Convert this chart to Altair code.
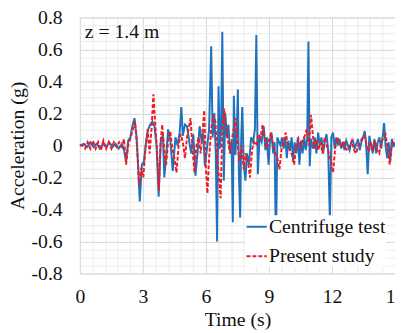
import altair as alt
import pandas as pd

# Centrifuge test (blue, solid)
t_cent = [0.0, 0.2, 0.35, 0.5, 0.65, 0.8, 0.95, 1.1, 1.25, 1.4, 1.55, 1.7, 1.85, 2.0, 2.1, 2.2, 2.3, 2.4, 2.5, 2.6,
          2.7, 2.78, 2.85, 2.95, 3.05, 3.15, 3.25, 3.35, 3.45, 3.55, 3.65, 3.75, 3.85, 3.95, 4.02, 4.1, 4.2, 4.3, 4.42, 4.55,
          4.65, 4.75, 4.83, 4.9, 5.0, 5.1, 5.2, 5.3, 5.4, 5.5, 5.6, 5.7, 5.8, 5.87, 5.95, 6.05, 6.15, 6.25, 6.32, 6.4,
          6.47, 6.53, 6.6, 6.66, 6.72, 6.78, 6.85, 6.92, 7.0, 7.07, 7.15, 7.22, 7.28, 7.33, 7.4, 7.47, 7.52, 7.57, 7.63, 7.68,
          7.73, 7.8, 7.88, 7.95, 8.05, 8.15, 8.25, 8.33, 8.4, 8.47, 8.55, 8.65, 8.75, 8.83, 8.9, 8.98, 9.05, 9.12, 9.2, 9.27,
          9.33, 9.4, 9.48, 9.55, 9.62, 9.7, 9.78, 9.85, 9.92, 10.0, 10.08, 10.15, 10.22, 10.3, 10.38, 10.45, 10.52, 10.6, 10.68, 10.75,
          10.82, 10.88, 10.94, 11.0, 11.1, 11.18, 11.26, 11.34, 11.42, 11.5, 11.58, 11.66, 11.74, 11.82, 11.9, 11.97, 12.05, 12.13, 12.2, 12.28,
          12.36, 12.44, 12.52, 12.6, 12.68, 12.76, 12.84, 12.92, 13.0, 13.08, 13.16, 13.24, 13.32, 13.4, 13.48, 13.56, 13.62, 13.7, 13.78, 13.86,
          13.94, 14.02, 14.1, 14.18, 14.26, 14.34, 14.42, 14.48, 14.55, 14.63, 14.7, 14.77, 14.85, 14.93, 15.0]
a_cent = [0.0, 0.01, -0.01, 0.02, -0.01, 0.01, -0.02, 0.01, -0.01, 0.02, -0.01, 0.01, -0.02, 0.01, -0.03, -0.1, 0.03, 0.05, 0.12, 0.17,
          0.05, -0.15, -0.35, -0.12, -0.1, 0.02, 0.1, 0.13, 0.15, 0.12, 0.0, -0.32, 0.02, 0.07, -0.2, -0.08, 0.1, 0.04, -0.16, 0.05,
          0.0, 0.08, 0.24, 0.06, 0.13, 0.12, 0.03, -0.05, 0.07, -0.19, -0.05, 0.12, 0.02, 0.08, -0.13, -0.02, 0.1, 0.62, 0.05, 0.2,
          -0.05, -0.6, 0.37, -0.02, 0.1, 0.71, -0.22, 0.2, 0.05, 0.13, -0.05, 0.02, -0.48, 0.31, -0.06, 0.1, 0.35, -0.18, -0.45, 0.05,
          0.24, -0.12, -0.22, -0.05, -0.12, 0.05, 0.02, 0.1, 0.69, -0.18, 0.05, 0.02, 0.12, -0.03, 0.05, -0.12, 0.03, 0.08, -0.05, 0.02,
          -0.66, 0.05, 0.02, 0.0, 0.05, -0.02, 0.05, -0.08, 0.03, -0.03, 0.05, -0.1, 0.02, -0.05, 0.05, -0.12, 0.03, -0.05, 0.05, -0.03,
          0.04, 0.65, -0.13, 0.04, -0.02, 0.05, -0.05, 0.08, 0.0, 0.05, -0.05, 0.03, 0.07, -0.03, -0.47, 0.05, 0.08, -0.02, 0.05, 0.0,
          0.04, -0.02, 0.02, -0.03, 0.03, 0.0, -0.03, 0.02, 0.03, -0.02, 0.01, 0.04, -0.03, 0.02, 0.05, 0.09, 0.02, -0.18, 0.06, 0.0,
          -0.05, 0.04, -0.05, 0.02, 0.05, -0.02, 0.06, 0.14, 0.0, -0.08, 0.02, -0.1, 0.04, -0.01, 0.02]

# Present study (red, dashed)
t_pres = [0.0, 0.12, 0.25, 0.37, 0.5, 0.62, 0.75, 0.87, 1.0, 1.12, 1.25, 1.37, 1.5, 1.62, 1.75, 1.87, 2.0, 2.1, 2.2, 2.3,
          2.42, 2.52, 2.62, 2.72, 2.82, 2.92, 3.02, 3.12, 3.22, 3.32, 3.42, 3.5, 3.58, 3.68, 3.76, 3.84, 3.92, 4.02, 4.1, 4.2,
          4.3, 4.4, 4.5, 4.6, 4.7, 4.8, 4.9, 5.0, 5.1, 5.2, 5.27, 5.35, 5.45, 5.55, 5.65, 5.75, 5.85, 5.92, 6.0, 6.07,
          6.15, 6.25, 6.35, 6.45, 6.55, 6.62, 6.7, 6.78, 6.87, 6.95, 7.05, 7.15, 7.25, 7.35, 7.42, 7.5, 7.6, 7.7, 7.8, 7.9,
          8.0, 8.1, 8.2, 8.3, 8.4, 8.5, 8.6, 8.7, 8.8, 8.9, 9.0, 9.1, 9.2, 9.3, 9.4, 9.5, 9.6, 9.7, 9.8, 9.9,
          10.0, 10.1, 10.2, 10.3, 10.4, 10.5, 10.6, 10.7, 10.8, 10.9, 11.0, 11.08, 11.16, 11.25, 11.35, 11.45, 11.55, 11.65, 11.75, 11.85,
          11.95, 12.05, 12.15, 12.25, 12.35, 12.45, 12.55, 12.65, 12.75, 12.85, 12.95, 13.05, 13.15, 13.25, 13.35, 13.45, 13.55, 13.65, 13.75, 13.85,
          13.95, 14.05, 14.15, 14.25, 14.35, 14.45, 14.55, 14.65, 14.75, 14.85, 14.95]
a_pres = [0.0, 0.0, -0.02, 0.02, -0.02, 0.03, -0.02, 0.02, -0.03, 0.03, -0.02, 0.02, -0.02, 0.02, -0.01, 0.02, -0.01, 0.04, -0.12, 0.0,
          0.05, 0.1, 0.15, 0.0, -0.25, -0.14, -0.2, -0.02, 0.1, -0.05, 0.12, 0.32, 0.15, -0.05, -0.28, 0.02, 0.13, -0.03, -0.13, 0.03,
          0.09, -0.02, -0.08, -0.17, 0.0, 0.07, 0.02, -0.08, 0.05, 0.12, 0.17, 0.0, -0.17, 0.0, 0.05, -0.05, 0.1, 0.22, -0.15, -0.3,
          -0.08, 0.1, 0.19, 0.15, -0.1, -0.2, -0.33, 0.1, 0.23, 0.12, 0.03, -0.05, 0.05, 0.12, 0.17, 0.02, -0.1, 0.0, -0.15, -0.05,
          -0.1, -0.2, -0.02, 0.02, 0.0, 0.07, 0.05, 0.13, 0.05, -0.02, 0.03, 0.08, 0.0, -0.05, -0.08, -0.15, -0.02, 0.03, 0.08, 0.0,
          -0.03, -0.06, -0.12, 0.0, 0.04, -0.02, 0.03, 0.06, 0.1, 0.0, 0.19, 0.08, -0.02, 0.04, -0.03, 0.02, -0.05, 0.05, 0.0, -0.05,
          -0.1, -0.17, -0.02, 0.05, 0.02, -0.01, 0.03, -0.02, -0.03, 0.0, 0.03, -0.03, -0.05, 0.0, 0.02, 0.05, 0.06, 0.0, -0.04, 0.02,
          -0.03, 0.03, -0.03, -0.05, 0.02, 0.05, 0.07, -0.02, -0.12, 0.0, 0.04]

series_names = ["Centrifuge test", "Present study"]
x_ticks = [0, 3, 6, 9, 12, 15]
y_ticks = [-0.8, -0.6, -0.4, -0.2, 0, 0.2, 0.4, 0.6, 0.8]
x_minor = [round(i * 0.6, 2) for i in range(26)]
y_minor = [round(-0.8 + i * 0.05, 2) for i in range(33)]
label_text = ["z = 1.4 m"]

df = pd.concat([
    pd.DataFrame({"t": t_cent, "a": a_cent, "series": series_names[0]}),
    pd.DataFrame({"t": t_pres, "a": a_pres, "series": series_names[1]}),
])

FONT = "Liberation Serif, Times New Roman, Tinos, DejaVu Serif, serif"
xs = alt.Scale(domain=[0, 15], nice=False, zero=False)
ys = alt.Scale(domain=[-0.8, 0.8], nice=False, zero=False)

grid_layer = alt.Chart(df).mark_line(opacity=0).encode(
    x=alt.X("t:Q", scale=xs, axis=alt.Axis(values=x_minor, labels=False, ticks=False, domain=False,
                                            grid=True, gridColor="#ececec", gridWidth=1, title=None, orient="bottom")),
    y=alt.Y("a:Q", scale=ys, axis=alt.Axis(values=y_minor, labels=False, ticks=False, domain=False,
                                            grid=True, gridColor="#ececec", gridWidth=1, title=None, orient="left")),
)

leg = alt.Legend(title=None, orient="none", legendX=168, legendY=201,
                 symbolType="stroke", symbolSize=420, symbolStrokeWidth=2,
                 labelFont=FONT, labelFontSize=20, labelColor="#111", labelOffset=1,
                 rowPadding=8, fillColor="white")

lines = alt.Chart(df).mark_line(strokeWidth=2).encode(
    x=alt.X("t:Q", scale=xs, axis=alt.Axis(values=x_ticks, grid=True, gridColor="#d8d8d8", ticks=False, domain=False,
                                            labelFont=FONT, labelFontSize=20, labelColor="#111", labelPadding=14,
                                            labelFlush=False,
                                            title="Time (s)", titleFont=FONT, titleFontSize=20, titleFontWeight="normal",
                                            titleColor="#111", titleY=47, titleBaseline="middle", orient="bottom",
                                            labelExpr="format(datum.value, 'd')")),
    y=alt.Y("a:Q", scale=ys, axis=alt.Axis(values=y_ticks, grid=True, gridColor="#d8d8d8", ticks=False, domain=False,
                                            labelFont=FONT, labelFontSize=20, labelColor="#111", labelPadding=18,
                                            title="Acceleration (g)", titleFont=FONT, titleFontSize=20,
                                            titleFontWeight="normal", titleColor="#111", titleX=-63, titleY=130,
                                            titleAngle=-90, titleAlign="center", titleBaseline="middle", orient="left",
                                            labelExpr="datum.value == 0 ? '0' : (datum.value < 0 ? '-' : '') + format(abs(datum.value), '.1f')")),
    color=alt.Color("series:N", scale=alt.Scale(domain=series_names, range=["#1f72bd", "#ee1c25"]), legend=leg),
    strokeDash=alt.StrokeDash("series:N", scale=alt.Scale(domain=series_names, range=[[1, 0], [4, 2]]), legend=leg),
)

label_df = pd.DataFrame({"t": [0.23], "a": [0.705], "txt": label_text})
label = alt.Chart(label_df).mark_text(font=FONT, fontSize=20, align="left", baseline="middle", color="#111").encode(
    x=alt.X("t:Q", scale=xs, axis=None), y=alt.Y("a:Q", scale=ys, axis=None), text="txt:N")

chart = alt.layer(grid_layer, lines, label).resolve_axis(x="independent", y="independent").properties(
    width=320, height=260,
    autosize=alt.AutoSizeParams(type="none"),
    padding={"left": 73, "top": 7, "right": 0, "bottom": 60},
).configure_view(stroke="#404040", strokeWidth=1.5).configure(background="white")

chart.save("out.html", embed_options={"renderer": "svg", "actions": False})
